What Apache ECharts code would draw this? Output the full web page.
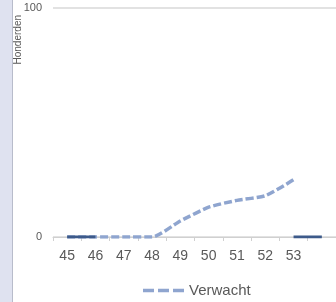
<!DOCTYPE html>
<html><head><meta charset="utf-8">
<script src="https://cdn.jsdelivr.net/npm/echarts@6/dist/echarts.min.js"></script>
<style>html,body{margin:0;padding:0;background:#fff}#c{width:336px;height:302px}
#strip{position:absolute;left:0;top:0;width:12px;height:302px;background:#dfe2f0;border-right:1px solid #b8bccb}</style>
</head><body><div id="strip"></div><div id="c"></div>
<script>
const categories = ['45','46','47','48','49','50','51','52','53',''];
const verwacht = [0,0,0,0,7,13,16,18,25,null];
const werkelijk = [0,0,null,null,null,null,null,null,0,0];
const yTicks = [0,100];
const yName = 'Honderden';
const chart = echarts.init(document.getElementById('c'));
chart.setOption({
  animation:false,
  grid:{left:53,right:-6,top:8,bottom:65},
  graphic:[{type:'text',left:13,top:15,rotation:Math.PI/2,
    style:{text:yName,font:'10px "Liberation Sans"',fill:'#595959'}}],
  legend:{bottom:-1,left:138,itemWidth:41,itemHeight:10,itemGap:8,data:[{name:'Verwacht',icon:'path://M0,4h11v3.5h-11zM15,4h11v3.5h-11zM30,4h11v3.5h-11z'}],
    textStyle:{fontFamily:'Liberation Sans',fontSize:15,color:'#595959'}},
  xAxis:{type:'category',data:categories,boundaryGap:true,
    axisLine:{lineStyle:{color:'#d0d0d0',width:1}},
    axisTick:{show:true,lineStyle:{color:'#d0d0d0'},length:4},
    axisLabel:{fontFamily:'Liberation Sans',fontSize:14,color:'#595959',margin:12}},
  yAxis:{type:'value',min:yTicks[0],max:yTicks[1],interval:100,
    axisLine:{show:false},axisTick:{show:false},
    axisLabel:{fontFamily:'Liberation Sans',fontSize:11,color:'#595959',margin:11},
    splitLine:{lineStyle:{color:'#e2e2e2',width:2}}},
  series:[
    {name:'Verwacht',type:'line',data:verwacht,symbol:'none',smooth:0.2,
      lineStyle:{color:'#8fa5cf',width:3.5,type:[8,3]},itemStyle:{color:'#8fa5cf'}},
    {name:'Werkelijk',type:'line',data:werkelijk,symbol:'none',connectNulls:false,
      lineStyle:{color:'#3d5a8a',width:3},itemStyle:{color:'#3d5a8a'},z:3}
  ]
});
</script></body></html>
